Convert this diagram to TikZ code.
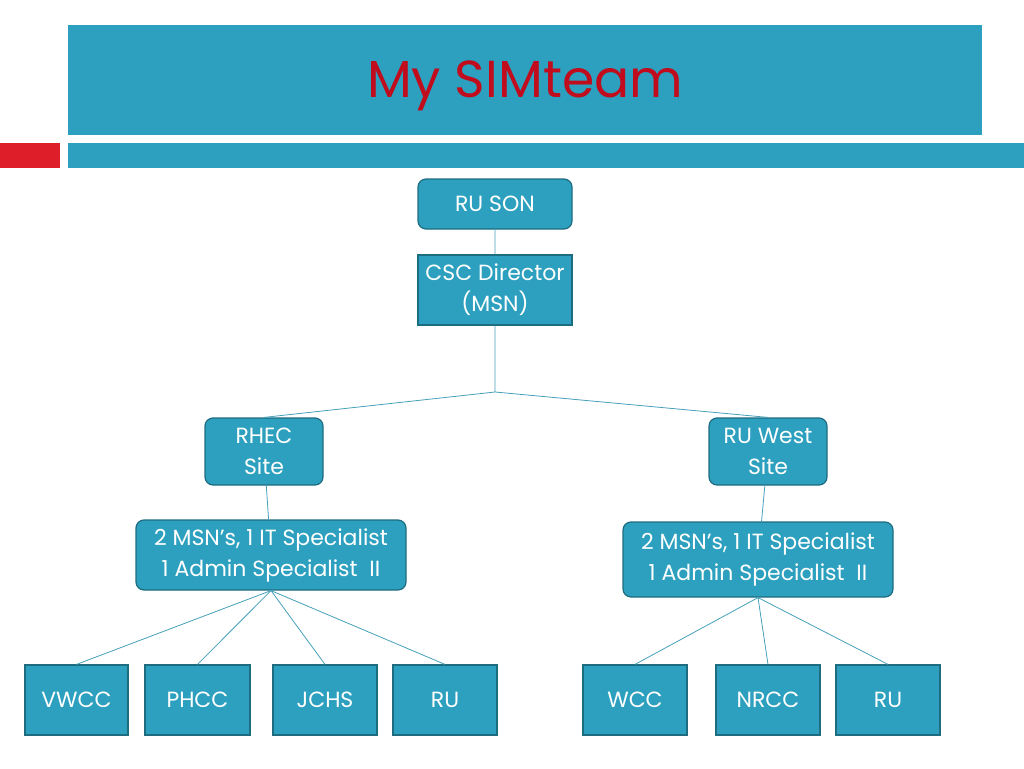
\documentclass[tikz,border=0pt]{standalone}
\usepackage{fontspec}
\setmainfont{Poppins}
\usetikzlibrary{positioning}
\definecolor{teal}{RGB}{44,160,190}
\definecolor{tealdark}{RGB}{30,108,128}
\definecolor{tline}{RGB}{70,160,185}
\definecolor{titlered}{RGB}{192,12,28}
\definecolor{barred}{RGB}{222,30,40}
\tikzset{
  unit/.style={draw=tealdark,line width=1.2pt,fill=teal,text=white,align=center,
    inner sep=0pt,font=\fontsize{22}{31}\selectfont},
  site/.style={unit,rounded corners=8pt},
  college/.style={unit,minimum width=104pt,minimum height=70pt},
  link/.style={draw=tline,line width=0.8pt}
}
\begin{document}
\begin{tikzpicture}[x=1pt,y=-1pt]
	\useasboundingbox (0,0) rectangle (1024,768);
	% header
	\fill[teal] (68,25) rectangle (982,135);
	\node[text=titlered,font=\fontsize{52}{62}\selectfont] (title) at (525,86) {My SIMteam};
	\fill[barred] (0,143) rectangle (60,168);
	\fill[teal] (68,143) rectangle (1024,168);
	% top of the tree
	\node[site,minimum width=154pt,minimum height=50pt] (rson) at (495,204) {RU SON};
	\node[unit,minimum width=154pt,minimum height=70pt] (csc) at (495,290) {CSC Director\\(MSN)};
	\coordinate (split) at (495,392);
	\node[site,minimum width=118pt,minimum height=67pt] (rhec) at (264,451.5) {RHEC\\Site};
	\node[site,minimum width=118pt,minimum height=67pt] (ruwest) at (768,451.5) {RU West\\Site};
	\node[site,minimum width=270pt,minimum height=70pt] (lstaff) at (271,555) {2 MSN’s, 1 IT Specialist\\1 Admin Specialist~ II};
	\node[site,minimum width=270pt,minimum height=75pt] (rstaff) at (758,559.5) {2 MSN’s, 1 IT Specialist\\1 Admin Specialist~ II};
	% colleges
	\node[college,minimum width=103pt] (vwcc) at (76.5,700) {VWCC};
	\node[college,minimum width=105pt] (phcc) at (197.5,700) {PHCC};
	\node[college] (jchs) at (325,700) {JCHS};
	\node[college] (lru) at (445,700) {RU};
	\node[college] (wcc) at (635,700) {WCC};
	\node[college] (nrcc) at (768,700) {NRCC};
	\node[college] (rru) at (888,700) {RU};
	\path[link]
	(rson) -- (csc)
	(csc) -- (split)
	(split) -- (rhec.north)
	(split) -- (ruwest.north)
	(rhec) -- (lstaff)
	(ruwest) -- (rstaff)
	(lstaff.south) -- (vwcc.north)
	(lstaff.south) -- (phcc.north)
	(lstaff.south) -- (jchs.north)
	(lstaff.south) -- (lru.north)
	(rstaff.south) -- (wcc.north)
	(rstaff.south) -- (nrcc.north)
	(rstaff.south) -- (rru.north);
\end{tikzpicture}
\end{document}
